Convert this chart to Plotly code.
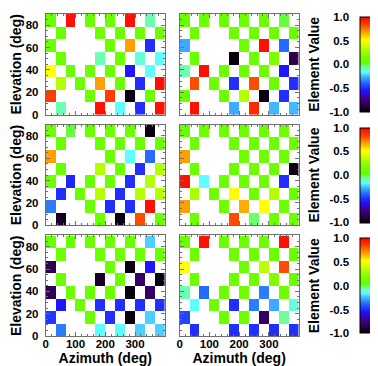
import plotly.graph_objects as go

# grid of the element maps (bin edges) and axis ticks
azimuth_edges = [0, 33.3, 66.7, 100, 133.3, 166.7, 200, 233.3, 266.7, 300, 333.3, 366.7, 400]
elevation_edges = [0, 11.25, 22.5, 33.75, 45, 56.25, 67.5, 78.75, 90]
azimuth_ticks = [0, 100, 200, 300]
elevation_ticks = [0, 20, 40, 60, 80]
value_ticks = [-1.0, -0.5, 0.0, 0.5, 1.0]
value_tick_labels = ["-1.0", "-0.5", "0.0", "0.5", "1.0"]

_ = None
# element values, highest elevation row first, None = no sample
panel_top_left = [
    [0.1, _, 0.96, _, 0.1, _, 0.1, _, 0.96, _, -0.08, _],
    [_, 0.1, _, _, _, 0.1, _, 0.1, _, 0.1, _, 0.1],
    [0.1, _, _, _, _, _, 0.1, _, 0.68, _, -0.5, _],
    [_, 0.1, _, _, _, -0.08, _, 0.1, _, -0.12, _, -0.16],
    [0.52, _, 0.1, _, 0.1, _, 0.1, _, -0.55, _, -0.16, _],
    [_, 0.33, _, 0.1, _, 0.68, _, 0.1, _, -0.5, _, 0.96],
    [0.85, _, _, _, 0.1, _, 0.85, _, -0.97, _, 0.1, _],
    [_, -0.08, _, _, _, 0.96, _, -0.16, _, -0.5, _, 0.96],
]
panel_top_right = [
    [0.1, _, 0.1, _, 0.1, _, 0.1, _, 0.1, _, 0.0, _],
    [_, 0.1, _, _, _, 0.1, _, 0.1, _, 0.1, _, 0.1],
    [-0.27, _, _, _, _, _, 0.1, _, 0.96, _, -0.38, _],
    [_, 0.1, _, _, _, -0.97, _, 0.1, _, 0.2, _, -0.85],
    [-0.08, _, 0.96, _, 0.1, _, 0.1, _, 0.1, _, -0.55, _],
    [_, 0.82, _, 0.1, _, -0.5, _, 0.82, _, 0.1, _, -0.5],
    [0.1, _, _, _, 0.1, _, 0.33, _, -0.97, _, -0.5, _],
    [_, 0.96, _, _, _, -0.27, _, 0.9, _, -0.25, _, -0.25],
]
panel_mid_left = [
    [0.1, _, 0.0, _, 0.1, _, 0.1, _, 0.1, _, -0.97, _],
    [_, 0.1, _, _, _, 0.1, _, 0.1, _, 0.1, _, 0.1],
    [0.68, _, _, _, _, _, 0.1, _, -0.16, _, -0.38, _],
    [_, 0.1, _, _, _, 0.33, _, 0.1, _, -0.5, _, 0.33],
    [0.1, _, -0.52, _, 0.1, _, 0.1, _, -0.5, _, 0.33, _],
    [_, -0.5, _, 0.1, _, 0.33, _, -0.5, _, 0.33, _, 0.33],
    [-0.35, _, _, _, 0.1, _, -0.5, _, -0.5, _, 0.96, _],
    [_, -0.93, _, _, _, 0.1, _, -0.97, _, 0.82, _, 0.1],
]
panel_mid_right = [
    [0.1, _, 0.1, _, 0.1, _, 0.1, _, 0.1, _, 0.1, _],
    [_, 0.1, _, _, _, 0.1, _, 0.1, _, 0.1, _, 0.1],
    [0.68, _, _, _, _, _, 0.1, _, 0.1, _, 0.1, _],
    [_, 0.1, _, _, _, 0.1, _, 0.1, _, 0.1, _, -0.97],
    [0.96, _, -0.16, _, 0.1, _, 0.1, _, 0.1, _, -0.5, _],
    [_, 0.3, _, 0.1, _, 0.5, _, 0.1, _, 0.33, _, 0.1],
    [0.68, _, _, _, 0.1, _, 0.66, _, 0.52, _, 0.1, _],
    [_, 0.1, _, _, _, 0.82, _, -0.03, _, 0.1, _, 0.1],
]
panel_bottom_left = [
    [0.1, _, 0.1, _, 0.1, _, 0.1, _, 0.1, _, -0.22, _],
    [_, 0.1, _, _, _, 0.1, _, 0.1, _, 0.1, _, 0.1],
    [-0.85, _, _, _, _, _, 0.1, _, -0.97, _, -0.55, _],
    [_, 0.1, _, _, _, -0.92, _, 0.1, _, -0.8, _, -0.97],
    [-0.83, _, 0.1, _, 0.1, _, 0.1, _, -0.97, _, -0.8, _],
    [_, -0.55, _, 0.1, _, -0.5, _, -0.5, _, -0.5, _, -0.5],
    [-0.48, _, _, _, 0.1, _, -0.5, _, -0.97, _, -0.22, _],
    [_, -0.35, _, _, _, -0.16, _, -0.16, _, -0.22, _, -0.22],
]
panel_bottom_right = [
    [0.1, _, 0.96, _, 0.1, _, 0.1, _, 0.1, _, 0.96, _],
    [_, 0.1, _, _, _, 0.1, _, 0.1, _, 0.1, _, 0.1],
    [0.52, _, _, _, _, _, 0.1, _, 0.35, _, 0.82, _],
    [_, 0.1, _, _, _, 0.1, _, 0.1, _, 0.2, _, 0.1],
    [-0.08, _, -0.38, _, 0.1, _, 0.1, _, -0.35, _, 0.1, _],
    [_, -0.16, _, 0.1, _, -0.5, _, -0.35, _, -0.27, _, -0.12],
    [-0.45, _, _, _, 0.1, _, 0.1, _, -0.8, _, -0.06, _],
    [_, -0.5, _, _, _, -0.5, _, -0.5, _, -0.5, _, -0.5],
]
panels = [
    [panel_top_left, panel_top_right],
    [panel_mid_left, panel_mid_right],
    [panel_bottom_left, panel_bottom_right],
]

# rainbow + black colour table
rainbow = [
    [0.00, "#000000"], [0.08, "#300050"], [0.14, "#400090"],
    [0.22, "#2010ff"], [0.30, "#2060ff"], [0.37, "#40b0ff"],
    [0.42, "#60ffff"], [0.47, "#70ffa0"], [0.52, "#60ff00"],
    [0.60, "#80ff00"], [0.70, "#d0ff00"], [0.76, "#ffff00"],
    [0.84, "#ffa000"], [0.92, "#ff4000"], [1.00, "#ff0000"],
]

W, H = 378, 366
col_px = [(35, 155), (170, 290)]
cbar_px = (352, 377)
cbar_inset = 3
row_px = [(0, 104), (114.5, 218.5), (229, 333)]
font = dict(family="Liberation Sans", size=11.5, color="black", weight="bold")
frame = "#707070"


def xdom(a, b):
    return [a / W, b / W]


def ydom(top, bottom):
    return [1 - bottom / H, 1 - top / H]


def suffix(n):
    return "" if n == 1 else str(n)


fig = go.Figure()
layout = {}

for i, (top, bottom) in enumerate(row_px):
    cb_top, cb_bottom = top + cbar_inset, bottom - cbar_inset
    cax = "coloraxis" + suffix(i + 1)
    layout[cax] = dict(
        colorscale=rainbow, cmin=-1, cmax=1,
        colorbar=dict(
            x=cbar_px[0] / W, xanchor="left", y=1 - (cb_top + cb_bottom) / 2 / H,
            yanchor="middle", len=(cb_bottom - cb_top) / H, lenmode="fraction",
            thickness=cbar_px[1] - cbar_px[0] - 1, outlinewidth=1,
            outlinecolor="black", showticklabels=False, ticks="",
            xpad=0, ypad=0,
        ),
    )
    for j, (left, right) in enumerate(col_px):
        n = 3 * i + j + 1
        fig.add_trace(go.Heatmap(
            z=panels[i][j][::-1], x=azimuth_edges, y=elevation_edges,
            coloraxis=cax, xaxis="x" + suffix(n), yaxis="y" + suffix(n),
            hoverongaps=False,
        ))
        layout["xaxis" + suffix(n)] = dict(
            domain=xdom(left, right), anchor="y" + suffix(n), range=[0, 400],
            tickvals=azimuth_ticks, showticklabels=(i == 2),
            ticks="inside", ticklen=4, tickcolor=frame, mirror="ticks",
            showline=True, linecolor=frame, linewidth=1,
            minor=dict(dtick=20, ticks="inside", ticklen=2, tickcolor=frame),
            showgrid=False, zeroline=False, ticklabelstandoff=-3,
            title=dict(text="Azimuth (deg)" if i == 2 else "", standoff=0),
        )
        layout["yaxis" + suffix(n)] = dict(
            domain=ydom(top, bottom), anchor="x" + suffix(n), range=[0, 90],
            tickvals=elevation_ticks, showticklabels=(j == 0),
            ticks="inside", ticklen=4, tickcolor=frame, mirror="ticks",
            showline=True, linecolor=frame, linewidth=1,
            minor=dict(dtick=5, ticks="inside", ticklen=2, tickcolor=frame),
            showgrid=False, zeroline=False, ticklabelstandoff=4,
            title=dict(text="Elevation (deg)" if j == 0 else "", standoff=2),
        )
    # empty subplot whose y axis carries the colour bar labels
    n = 3 * i + 3
    fig.add_trace(go.Scatter(
        x=[None], y=[None], mode="markers", hoverinfo="skip",
        xaxis="x" + suffix(n), yaxis="y" + suffix(n),
    ))
    layout["xaxis" + suffix(n)] = dict(
        domain=xdom(*cbar_px), anchor="y" + suffix(n), range=[0, 1],
        showline=False, showgrid=False, zeroline=False, showticklabels=False,
        ticks="",
    )
    layout["yaxis" + suffix(n)] = dict(
        domain=ydom(cb_top, cb_bottom), anchor="x" + suffix(n), range=[-1, 1],
        tickvals=value_ticks, ticktext=value_tick_labels, ticks="",
        showline=False, showgrid=False, zeroline=False, ticklabelstandoff=10,
        title=dict(text="Element Value", standoff=6),
    )

fig.update_layout(
    **layout,
    width=W, height=H,
    margin=dict(l=0, r=0, t=0, b=0),
    paper_bgcolor="white", plot_bgcolor="white",
    font=font, showlegend=False,
)

fig.write_html("out.html")
